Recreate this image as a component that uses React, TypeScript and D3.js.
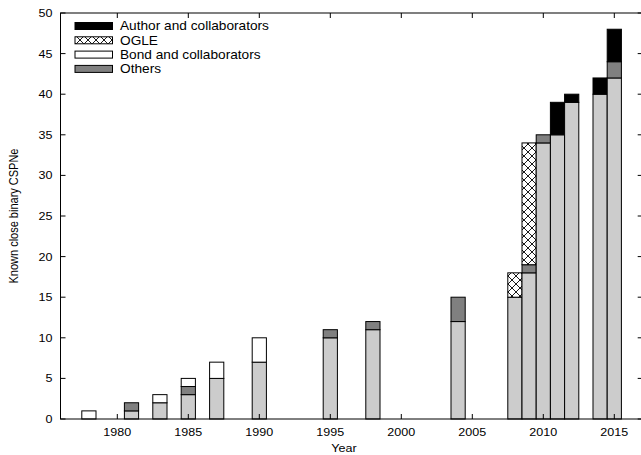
import React from 'react'
import * as d3 from 'd3'

// Years with new discoveries, and how many came from each source that year
const years = [1978, 1981, 1983, 1985, 1987, 1990, 1995, 1998, 2004, 2008, 2009, 2010, 2011, 2012, 2014, 2015]
const previous = [0, 1, 2, 3, 5, 7, 10, 11, 12, 15, 18, 34, 35, 39, 40, 42]
const others = [0, 1, 0, 1, 0, 0, 1, 1, 3, 0, 1, 1, 0, 0, 0, 2]
const bond = [1, 0, 1, 1, 2, 3, 0, 0, 0, 0, 0, 0, 0, 0, 0, 0]
const ogle = [0, 0, 0, 0, 0, 0, 0, 0, 0, 3, 15, 0, 0, 0, 0, 0]
const author = [0, 0, 0, 0, 0, 0, 0, 0, 0, 0, 0, 0, 4, 1, 2, 4]

const xTicks = [1980, 1985, 1990, 1995, 2000, 2005, 2010, 2015]
const yTicks = [0, 5, 10, 15, 20, 25, 30, 35, 40, 45, 50]

const W = 641
const H = 455
const FONT = '"Liberation Sans", Arial, Helvetica, sans-serif'
// the original output is a little wider than it is tall
const STRETCH = 1.14

const series = [
  { key: 'previous', values: previous, fill: '#cccccc' },
  { key: 'others', values: others, fill: '#808080' },
  { key: 'bond', values: bond, fill: '#ffffff' },
  { key: 'ogle', values: ogle, fill: 'url(#crosshatch)' },
  { key: 'author', values: author, fill: '#000000' },
]

const legendItems = [
  { label: 'Author and collaborators', fill: '#000000' },
  { label: 'OGLE', fill: 'url(#crosshatch)' },
  { label: 'Bond and collaborators', fill: '#ffffff' },
  { label: 'Others', fill: '#808080' },
]

const Label = ({
  x,
  y,
  size,
  anchor = 'start',
  dy,
  children,
}: {
  x: number
  y: number
  size: number
  anchor?: 'start' | 'middle' | 'end'
  dy?: string
  children: React.ReactNode
}) => (
  <text
    transform={`translate(${x},${y}) scale(${STRETCH},1)`}
    textAnchor={anchor}
    dy={dy}
    fontSize={size}
    fill="#000"
  >
    {children}
  </text>
)

export default function App() {
  const x = d3.scaleLinear().domain([1976, 2017]).range([60.5, 642.7])
  const y = d3.scaleLinear().domain([0, 50]).range([419, 13])
  const bw = x(1) - x(0)
  const tick = 5

  const segments: { x: number; y0: number; y1: number; fill: string; k: string }[] = []
  years.forEach((yr, i) => {
    let acc = 0
    series.forEach((s) => {
      const v = s.values[i]
      if (v > 0) {
        segments.push({ x: yr, y0: acc, y1: acc + v, fill: s.fill, k: `${s.key}-${yr}` })
        acc += v
      }
    })
  })

  const [x0, x1] = x.range()
  const [yb, yt] = y.range()

  return (
    <svg width={W} height={H} style={{ position: 'absolute', left: 0, top: 0, background: '#fff' }} fontFamily={FONT}>
      <defs>
        <pattern id="crosshatch" width={8} height={8} patternUnits="userSpaceOnUse">
          <rect width={8} height={8} fill="#fff" />
          <path d="M0,0 L8,8 M8,0 L0,8" stroke="#000" strokeWidth={0.9} />
        </pattern>
      </defs>

      {/* bars */}
      {segments.map((s) => (
        <rect
          key={s.k}
          x={x(s.x) - bw / 2}
          y={y(s.y1)}
          width={bw}
          height={y(s.y0) - y(s.y1)}
          fill={s.fill}
          stroke="#000"
          strokeWidth={1}
        />
      ))}

      {/* frame */}
      <rect x={x0} y={yt} width={x1 - x0} height={yb - yt} fill="none" stroke="#000" strokeWidth={1} />

      {/* y ticks */}
      {yTicks.map((t) => (
        <g key={`y${t}`}>
          <line x1={x0} x2={x0 + tick} y1={y(t)} y2={y(t)} stroke="#000" />
          <line x1={x1} x2={x1 - tick} y1={y(t)} y2={y(t)} stroke="#000" />
          <Label x={x0 - 8} y={y(t)} dy="0.36em" anchor="end" size={11}>
            {t}
          </Label>
        </g>
      ))}

      {/* x ticks */}
      {xTicks.map((t) => (
        <g key={`x${t}`}>
          <line x1={x(t)} x2={x(t)} y1={yb} y2={yb - tick} stroke="#000" />
          <line x1={x(t)} x2={x(t)} y1={yt} y2={yt + tick} stroke="#000" />
          <Label x={x(t)} y={436} anchor="middle" size={11}>
            {t}
          </Label>
        </g>
      ))}

      {/* axis titles */}
      <Label x={344} y={452} anchor="middle" size={11}>
        Year
      </Label>
      <text
        transform={`translate(18,${(yt + yb) / 2}) rotate(-90) scale(1,${STRETCH})`}
        textAnchor="middle"
        fontSize={11}
        fill="#000"
      >
        Known close binary CSPNe
      </text>

      {/* legend */}
      {legendItems.map((item, i) => {
        const ly = 22.5 + i * 14.3
        return (
          <g key={item.label}>
            <rect x={75} y={ly} width={37.5} height={7} fill={item.fill} stroke="#000" strokeWidth={1} />
            <Label x={120} y={ly + 3.5} dy="0.36em" size={12}>
              {item.label}
            </Label>
          </g>
        )
      })}
    </svg>
  )
}
